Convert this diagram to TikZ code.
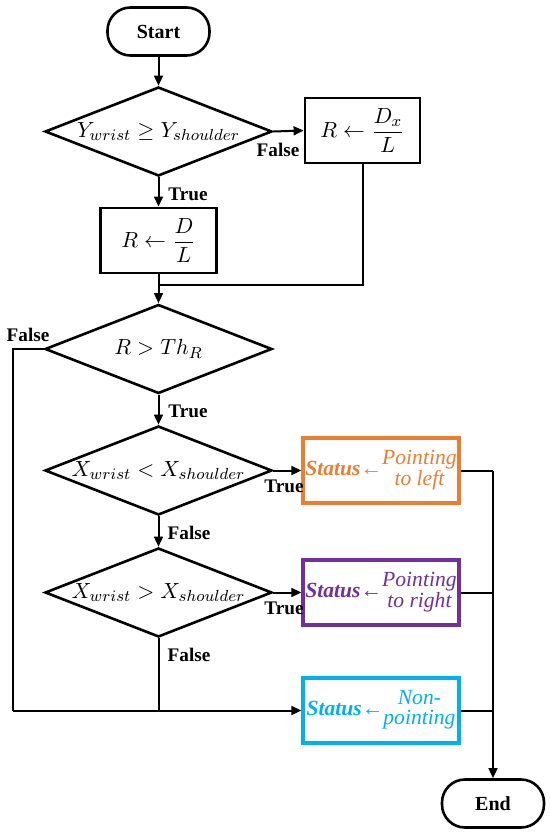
\documentclass[tikz,border=0pt]{standalone}
\usepackage{amsmath}
\usepackage{fontspec}
\setmainfont{Liberation Serif}
\usetikzlibrary{shapes.geometric,arrows.meta}
\definecolor{corange}{HTML}{ED7D31}
\definecolor{cpurple}{HTML}{7030A0}
\definecolor{ccyan}{HTML}{00B0F0}
\newcommand{\stat}[2]{{\bfseries\itshape Status}{←}\begin{tabular}{@{}c@{}}#1\\#2\end{tabular}}
\begin{document}
\begin{tikzpicture}[x=0.5pt,y=-0.5pt,
  line width=1pt,
  >={Triangle[length=5pt,width=4.4pt]},
  term/.style={draw,line width=1.3pt,rounded corners=11.5pt,minimum width=51pt,minimum height=24pt,inner sep=0pt,font=\fontsize{10}{12}\selectfont\bfseries},
  dec/.style={draw,diamond,aspect=2.55,line width=1.3pt,minimum width=113.5pt,minimum height=44.5pt,inner sep=0pt,font=\fontsize{11}{13}\selectfont},
  proc/.style={draw,rectangle,line width=1.4pt,minimum height=32.5pt,inner sep=0pt,font=\fontsize{11}{13}\selectfont},
  stbox/.style={draw,rectangle,line width=1.6pt,minimum width=78pt,minimum height=32.5pt,inner sep=0pt,font=\fontsize{10.8}{9.4}\selectfont\itshape},
  lab/.style={font=\fontsize{9.6}{11}\selectfont\bfseries,inner sep=0pt}]
\useasboundingbox (0,0) rectangle (550,835);
% nodes
\node[term] (start) at (158.5,31.5) {Start};
\node[dec] (d1) at (158.5,131.5) {$Y_{wrist}\geq Y_{shoulder}$};
\node[proc,minimum width=57.5pt] (dx) at (362.5,130.5) {$R\leftarrow\dfrac{D_x}{L}$};
\node[proc,minimum width=58pt] (dl) at (158.5,240.5) {$R\leftarrow\dfrac{D}{L}$};
\node[dec] (d2) at (158.5,349) {$R>Th_R$};
\node[dec] (d3) at (158.5,470.5) {$X_{wrist}<X_{shoulder}$};
\node[dec] (d4) at (158.5,592.5) {$X_{wrist}>X_{shoulder}$};
\node[stbox,draw=corange,text=corange] (sl) at (381,470.5) {\stat{Pointing}{to left}};
\node[stbox,draw=cpurple,text=cpurple] (sr) at (381,592.5) {\stat{Pointing}{to right}};
\node[stbox,draw=ccyan,text=ccyan] (sn) at (381,710.5) {\stat{Non-}{pointing}};
\node[term] (end) at (493,803.5) {End};
% coordinates
\coordinate (j1) at (158.5,285);
\coordinate (lft1) at (13,349);
\coordinate (lft2) at (13,710.5);
\coordinate (mid) at (158.5,710.5);
\coordinate (r1) at (493,470.5);
\coordinate (r2) at (493,592.5);
\coordinate (r3) at (493,710.5);
% connectors
\draw[->] (start) -- (d1);
\draw[->] (d1.east) -- (dx.west);
\draw[->] (d1.south) -- (dl.north);
\draw (dx.south) |- (j1);
\draw[->] (dl.south) -- (d2.north);
\draw (d2.west) -- (lft1) -- (lft2);
\draw[->] (lft2) -- (sn.west);
\draw[->] (d2.south) -- (d3.north);
\draw[->] (d3.east) -- (sl.west);
\draw[->] (d3.south) -- (d4.north);
\draw[->] (d4.east) -- (sr.west);
\draw (d4.south) -- (mid);
\draw (sl.east) -- (r1);
\draw[->] (r1) -- (end.north);
\draw (sr.east) -- (r2);
\draw (sn.east) -- (r3);
% labels
\node[lab] (f1) at (278,150) {False};
\node[lab] (t1) at (188,194) {True};
\node[lab] (f2) at (28,335) {False};
\node[lab] (t2) at (188,411) {True};
\node[lab] (t3) at (284,486) {True};
\node[lab] (f3) at (189,533) {False};
\node[lab] (t4) at (284,608) {True};
\node[lab] (f4) at (189,655) {False};
\end{tikzpicture}
\end{document}
